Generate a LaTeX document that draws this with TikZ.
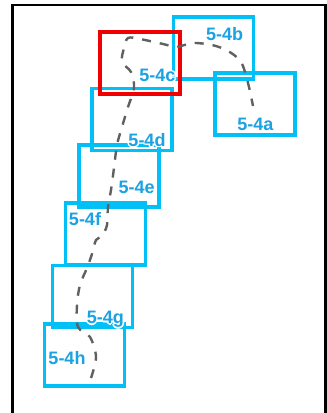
\documentclass[tikz,border=0pt]{standalone}
\usepackage{fontspec}
\setmainfont{Liberation Sans}
\usetikzlibrary{positioning}
\definecolor{sitecyan}{HTML}{00C0F5}
\definecolor{labelblue}{HTML}{1BA2E2}
\definecolor{trackgray}{HTML}{606060}
\definecolor{focusred}{HTML}{F00000}

% label with a white halo round it
\newcommand{\sitelabel}[3]{%
  \foreach \ang in {0,45,...,315}
    \node[tag, text=white, shift={(\ang:1.7pt)}] at (#1) {#3};
  \node[tag] (#2) at (#1) {#3};
}

\begin{document}
\begin{tikzpicture}[x=1pt, y=-1pt,
      site/.style={draw=sitecyan, line width=3.2pt, minimum width=80pt,
        minimum height=62pt, inner sep=0pt},
      focus/.style={site, draw=focusred, line width=4.6pt},
      tag/.style={font=\bfseries\fontsize{18}{18}\selectfont,
        text=labelblue, anchor=base, inner sep=0pt},
      track/.style={draw=trackgray, line width=2.4pt,
        dash pattern=on 9pt off 9pt}
    ]
      \useasboundingbox (0,0) rectangle (327,413);
      \begin{scope}
        \clip (0,0) rectangle (327,413);
        \draw[line width=2.6pt] (12.5,420) -- (12.5,5) -- (325.5,5)
          -- (325.5,420);
      \end{scope}
      % frames of the sites
      \node[site] (s4b) at (213.5,48) {};
      \node[site] (s4a) at (255,104) {};
      \node[site] (s4d) at (132,119.5) {};
      \node[site] (s4e) at (119,176) {};
      \node[site] (s4f) at (105.5,234) {};
      \node[site] (s4g) at (92.5,296.5) {};
      \node[site] (s4h) at (84.5,355) {};
      \node[focus] (s4c) at (140,63) {};
      % track
      \draw[track] plot[smooth, tension=0.55] coordinates {
        (91,378) (96,357) (90,337) (78,327) (77,305) (80,285) (87,268)
        (92,254) (96,240) (102,236) (107,225) (108,207) (111,190)
        (114,168) (117,145) (122,127) (128,107) (134,88) (131,72)
        (122,62) (124,48) (128,38) (140,39) (163,44) (177,47) (192,43)
        (212,45) (228,51) (241,62) (248,83) (253,106)};
      % labels
      \sitelabel{224.7,40.7}{t4b}{5-4b}
      \sitelabel{157.5,81.7}{t4c}{5-4c}
      \sitelabel{255.5,130}{t4a}{5-4a}
      \sitelabel{147,146}{t4d}{5-4d}
      \sitelabel{136.7,193.3}{t4e}{5-4e}
      \sitelabel{85,225}{t4f}{5-4f}
      \sitelabel{105.3,323.3}{t4g}{5-4g}
      \sitelabel{67,364}{t4h}{5-4h}
    \end{tikzpicture}
\end{document}
